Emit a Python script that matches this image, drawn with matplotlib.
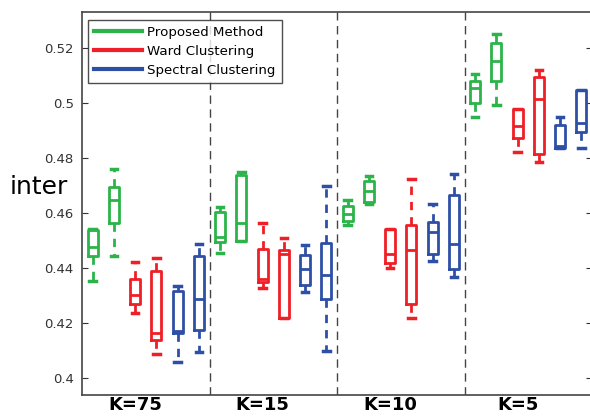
import matplotlib
matplotlib.use("Agg")
import matplotlib.pyplot as plt
from matplotlib.lines import Line2D

groups = ["K=75", "K=15", "K=10", "K=5"]
methods = ["Proposed Method", "Ward Clustering", "Spectral Clustering"]
colors = ["#2cb34a", "#ee1f26", "#2e4fa6"]

# per group: 6 boxes (2 per method): [whislo, q1, med, q3, whishi]
proposed = [
    [[0.4351, 0.4442, 0.4476, 0.4537, 0.4540], [0.4445, 0.4562, 0.4649, 0.4693, 0.4759]],
    [[0.4454, 0.4495, 0.4511, 0.4602, 0.4622], [0.4498, 0.4498, 0.4562, 0.4737, 0.4748]],
    [[0.4556, 0.4571, 0.4595, 0.4625, 0.4649], [0.4634, 0.4640, 0.4680, 0.4717, 0.4735]],
    [[0.4948, 0.4999, 0.5053, 0.5080, 0.5104], [0.4992, 0.5080, 0.5153, 0.5217, 0.5250]],
]
ward = [
    [[0.4237, 0.4268, 0.4303, 0.4361, 0.4420], [0.4088, 0.4137, 0.4163, 0.4389, 0.4436]],
    [[0.4327, 0.4349, 0.4361, 0.4468, 0.4564], [0.4219, 0.4219, 0.4452, 0.4464, 0.4509]],
    [[0.4401, 0.4418, 0.4450, 0.4543, 0.4543], [0.4218, 0.4268, 0.4464, 0.4555, 0.4722]],
    [[0.4820, 0.4871, 0.4916, 0.4980, 0.4980], [0.4786, 0.4816, 0.5014, 0.5095, 0.5120]],
]
spectral = [
    [[0.4058, 0.4163, 0.4170, 0.4316, 0.4334], [0.4093, 0.4173, 0.4286, 0.4442, 0.4489]],
    [[0.4312, 0.4339, 0.4398, 0.4446, 0.4483], [0.4097, 0.4288, 0.4373, 0.4492, 0.4697]],
    [[0.4424, 0.4450, 0.4531, 0.4567, 0.4634], [0.4367, 0.4398, 0.4489, 0.4667, 0.4741]],
    [[0.4835, 0.4835, 0.4845, 0.4919, 0.4948], [0.4838, 0.4895, 0.4926, 0.5047, 0.5047]],
]
yticks = [0.40, 0.42, 0.44, 0.46, 0.48, 0.50, 0.52]
ytick_labels = ["0.4", "0.42", "0.44", "0.46", "0.48", "0.5", "0.52"]

fig = plt.figure(figsize=(5.9, 4.18), dpi=100)
ax = fig.add_axes([82/590, 1-395/418, 510/590, 383/418])

series = [proposed, ward, spectral]
for m, data in enumerate(series):
    col = colors[m]
    for g, pair in enumerate(data):
        for k, vals in enumerate(pair):
            pos = g*6 + m*2 + k + 0.5
            st = dict(whislo=vals[0], q1=vals[1], med=vals[2], q3=vals[3], whishi=vals[4], fliers=[])
            ax.bxp([st], positions=[pos], widths=0.48, capwidths=0.3, showfliers=False,
                   boxprops=dict(color=col, linewidth=2.0),
                   medianprops=dict(color=col, linewidth=2.0),
                   whiskerprops=dict(color=col, linewidth=2.0, linestyle=(0, (3, 2.5))),
                   capprops=dict(color=col, linewidth=2.5),
                   manage_ticks=False)

for xd in [6, 12, 18]:
    ax.axvline(xd, color="#444444", linestyle=(0, (6, 4)), linewidth=1.0)

ax.set_xlim(0, 24)
ax.set_ylim(0.3938, 0.5331)
ax.set_yticks(yticks)
ax.set_yticklabels(ytick_labels, fontsize=9.5, color="#333333")
ax.set_xticks([2.5, 8.5, 14.5, 20.5])
ax.set_xticklabels(groups, fontsize=13, fontweight="bold")
ax.tick_params(axis="x", length=0, pad=1)
ax.tick_params(axis="y", direction="in", length=4, right=True, color="#333333", pad=6)
for s in ax.spines.values():
    s.set_color("#444444")
    s.set_linewidth(1.2)

fig.text(10/590, 1-187/418, "inter", fontsize=18, va="center", ha="left")

handles = [Line2D([0], [0], color=c, linewidth=3) for c in colors]
leg = ax.legend(handles, methods, loc="upper left", bbox_to_anchor=(0.012, 0.98), fontsize=9.6,
                frameon=True, fancybox=False, edgecolor="#222222", handlelength=3.6,
                borderpad=0.45, labelspacing=0.45, handletextpad=0.4, borderaxespad=0)
leg.get_frame().set_linewidth(1.0)

fig.savefig("out.png", dpi=100)
